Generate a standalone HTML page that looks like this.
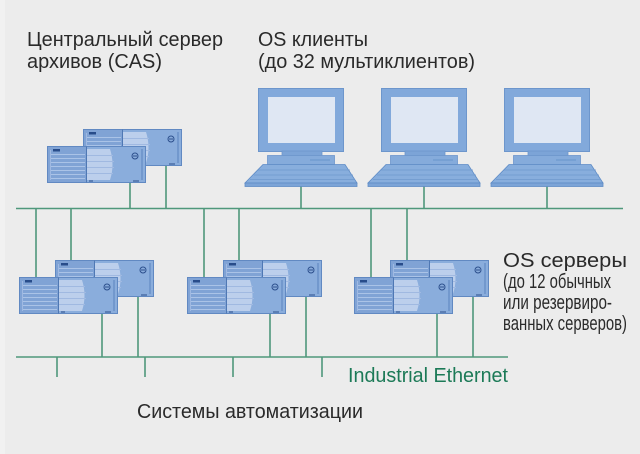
<!DOCTYPE html>
<html><head><meta charset="utf-8"><style>
html,body{margin:0;padding:0;background:#ececec;}
svg{display:block;}
text{font-family:"Liberation Sans","DejaVu Sans",sans-serif;font-size:20px;fill:#2a2a2a;}
</style></head><body>
<svg width="640" height="454" viewBox="0 0 640 454" xmlns="http://www.w3.org/2000/svg" xmlns:xlink="http://www.w3.org/1999/xlink">
<defs>
<g id="srv">
  <rect x="0.5" y="0.5" width="98" height="36" fill="#8aaddc" stroke="#6189c2"/>
  <rect x="1" y="1" width="38" height="35" fill="#80a3d5"/>
  <g stroke="#aac3e7" stroke-width="1">
    <line x1="4" y1="8.5" x2="38" y2="8.5"/>
    <line x1="4" y1="12.5" x2="38" y2="12.5"/>
    <line x1="4" y1="16.5" x2="38" y2="16.5"/>
    <line x1="4" y1="20.5" x2="38" y2="20.5"/>
    <line x1="4" y1="24.5" x2="38" y2="24.5"/>
    <line x1="4" y1="28.5" x2="38" y2="28.5"/>
    <line x1="4" y1="32.5" x2="38" y2="32.5"/>
  </g>
  <line x1="3.5" y1="4" x2="3.5" y2="34" stroke="#9fb9e2"/>
  <rect x="6" y="3" width="7" height="2.5" fill="#284c8a"/>
  <line x1="39.5" y1="0.5" x2="39.5" y2="36.5" stroke="#4f78b4"/>
  <path d="M40 3 H63 Q68 18.5 63 34 H40 Z" fill="#bccfec"/>
  <g stroke="#a0b9e1" stroke-width="1">
    <line x1="40" y1="9.5" x2="66" y2="9.5"/>
    <line x1="40" y1="15.5" x2="67" y2="15.5"/>
    <line x1="40" y1="21.5" x2="67" y2="21.5"/>
    <line x1="40" y1="27.5" x2="66" y2="27.5"/>
  </g>
  <circle cx="88" cy="10" r="3" fill="none" stroke="#2c4f8c" stroke-width="1"/>
  <line x1="86" y1="10" x2="90" y2="10" stroke="#2c4f8c"/>
  <line x1="95" y1="3" x2="95" y2="34" stroke="#6a91c8" stroke-width="1.5"/>
  <line x1="86" y1="35" x2="92" y2="35" stroke="#2c4f8c"/>
  <line x1="42" y1="35" x2="46" y2="35" stroke="#2c4f8c"/>
</g>
<g id="pc">
  <rect x="0.5" y="0.5" width="85" height="63" fill="#82a9db" stroke="#6d96cc"/>
  <rect x="10" y="9" width="67" height="46" fill="#dfe7f3"/>
  <rect x="24" y="63" width="40" height="5" fill="#7ca4d7" stroke="#6d96cc" stroke-width="0.8"/>
  <rect x="9.5" y="67.5" width="67" height="9" fill="#85abdb" stroke="#6d96cc" stroke-width="0.8"/>
  <line x1="52" y1="72" x2="72" y2="72" stroke="#5f8cc6" stroke-width="0.8"/>
  <path d="M5 76.5 H87 L99 95 H-13 Z" fill="#88aedd" stroke="#5f8cc6" stroke-width="0.8"/>
  <rect x="-13" y="95" width="112" height="3.5" fill="#7ca4d7" stroke="#5f8cc6" stroke-width="0.8"/>
  <g stroke="#6f98cd" stroke-width="0.7">
    <line x1="0" y1="82" x2="92" y2="82"/>
    <line x1="-4" y1="87" x2="95" y2="87"/>
    <line x1="-8" y1="91.5" x2="97" y2="91.5"/>
  </g>
</g>
</defs>

<rect x="0" y="0" width="5" height="454" fill="#f1f1f1"/>

<!-- lines -->
<g stroke="#4f987b" stroke-width="1.6" fill="none">
  <line x1="16" y1="208.5" x2="623" y2="208.5"/>
  <line x1="16" y1="357" x2="508" y2="357"/>
  <line x1="130" y1="182" x2="130" y2="208.5"/>
  <line x1="166" y1="166" x2="166" y2="208.5"/>
  <line x1="301" y1="186" x2="301" y2="208.5"/>
  <line x1="424" y1="186" x2="424" y2="208.5"/>
  <line x1="547" y1="186" x2="547" y2="208.5"/>
  <line x1="36" y1="208.5" x2="36" y2="277"/>
  <line x1="71" y1="208.5" x2="71" y2="260"/>
  <line x1="204" y1="208.5" x2="204" y2="277"/>
  <line x1="239" y1="208.5" x2="239" y2="260"/>
  <line x1="371" y1="208.5" x2="371" y2="277"/>
  <line x1="407" y1="208.5" x2="407" y2="260"/>
  <line x1="102" y1="313" x2="102" y2="357"/>
  <line x1="138" y1="297" x2="138" y2="357"/>
  <line x1="270" y1="313" x2="270" y2="357"/>
  <line x1="306" y1="297" x2="306" y2="357"/>
  <line x1="437" y1="313" x2="437" y2="357"/>
  <line x1="473" y1="297" x2="473" y2="357"/>
  <line x1="57" y1="357" x2="57" y2="377"/>
  <line x1="145" y1="357" x2="145" y2="377"/>
  <line x1="233" y1="357" x2="233" y2="377"/>
  <line x1="322" y1="357" x2="322" y2="377"/>
</g>

<!-- servers -->
<use xlink:href="#srv" href="#srv" x="83" y="129"/>
<use xlink:href="#srv" href="#srv" x="47" y="146"/>
<use xlink:href="#srv" href="#srv" x="55" y="260"/>
<use xlink:href="#srv" href="#srv" x="19" y="277"/>
<use xlink:href="#srv" href="#srv" x="223" y="260"/>
<use xlink:href="#srv" href="#srv" x="187" y="277"/>
<use xlink:href="#srv" href="#srv" x="390" y="260"/>
<use xlink:href="#srv" href="#srv" x="354" y="277"/>

<!-- clients -->
<use xlink:href="#pc" href="#pc" x="258" y="88"/>
<use xlink:href="#pc" href="#pc" x="381" y="88"/>
<use xlink:href="#pc" href="#pc" x="504" y="88"/>

<!-- labels -->
<text x="27" y="46" textLength="196" lengthAdjust="spacingAndGlyphs">Центральный сервер</text>
<text x="27" y="68" textLength="135" lengthAdjust="spacingAndGlyphs">архивов (CAS)</text>
<text x="258" y="46" textLength="110" lengthAdjust="spacingAndGlyphs">OS клиенты</text>
<text x="258" y="68" textLength="217" lengthAdjust="spacingAndGlyphs">(до 32 мультиклиентов)</text>
<text x="503" y="267" textLength="124" lengthAdjust="spacingAndGlyphs">OS серверы</text>
<text x="503" y="288" textLength="108" lengthAdjust="spacingAndGlyphs">(до 12 обычных</text>
<text x="503" y="309" textLength="109" lengthAdjust="spacingAndGlyphs">или резервиро-</text>
<text x="503" y="330" textLength="124" lengthAdjust="spacingAndGlyphs">ванных серверов)</text>
<text x="348" y="382" textLength="160" lengthAdjust="spacingAndGlyphs" style="fill:#1c7a57">Industrial Ethernet</text>
<text x="137" y="418" textLength="226" lengthAdjust="spacingAndGlyphs">Системы автоматизации</text>
</svg>
</body></html>
